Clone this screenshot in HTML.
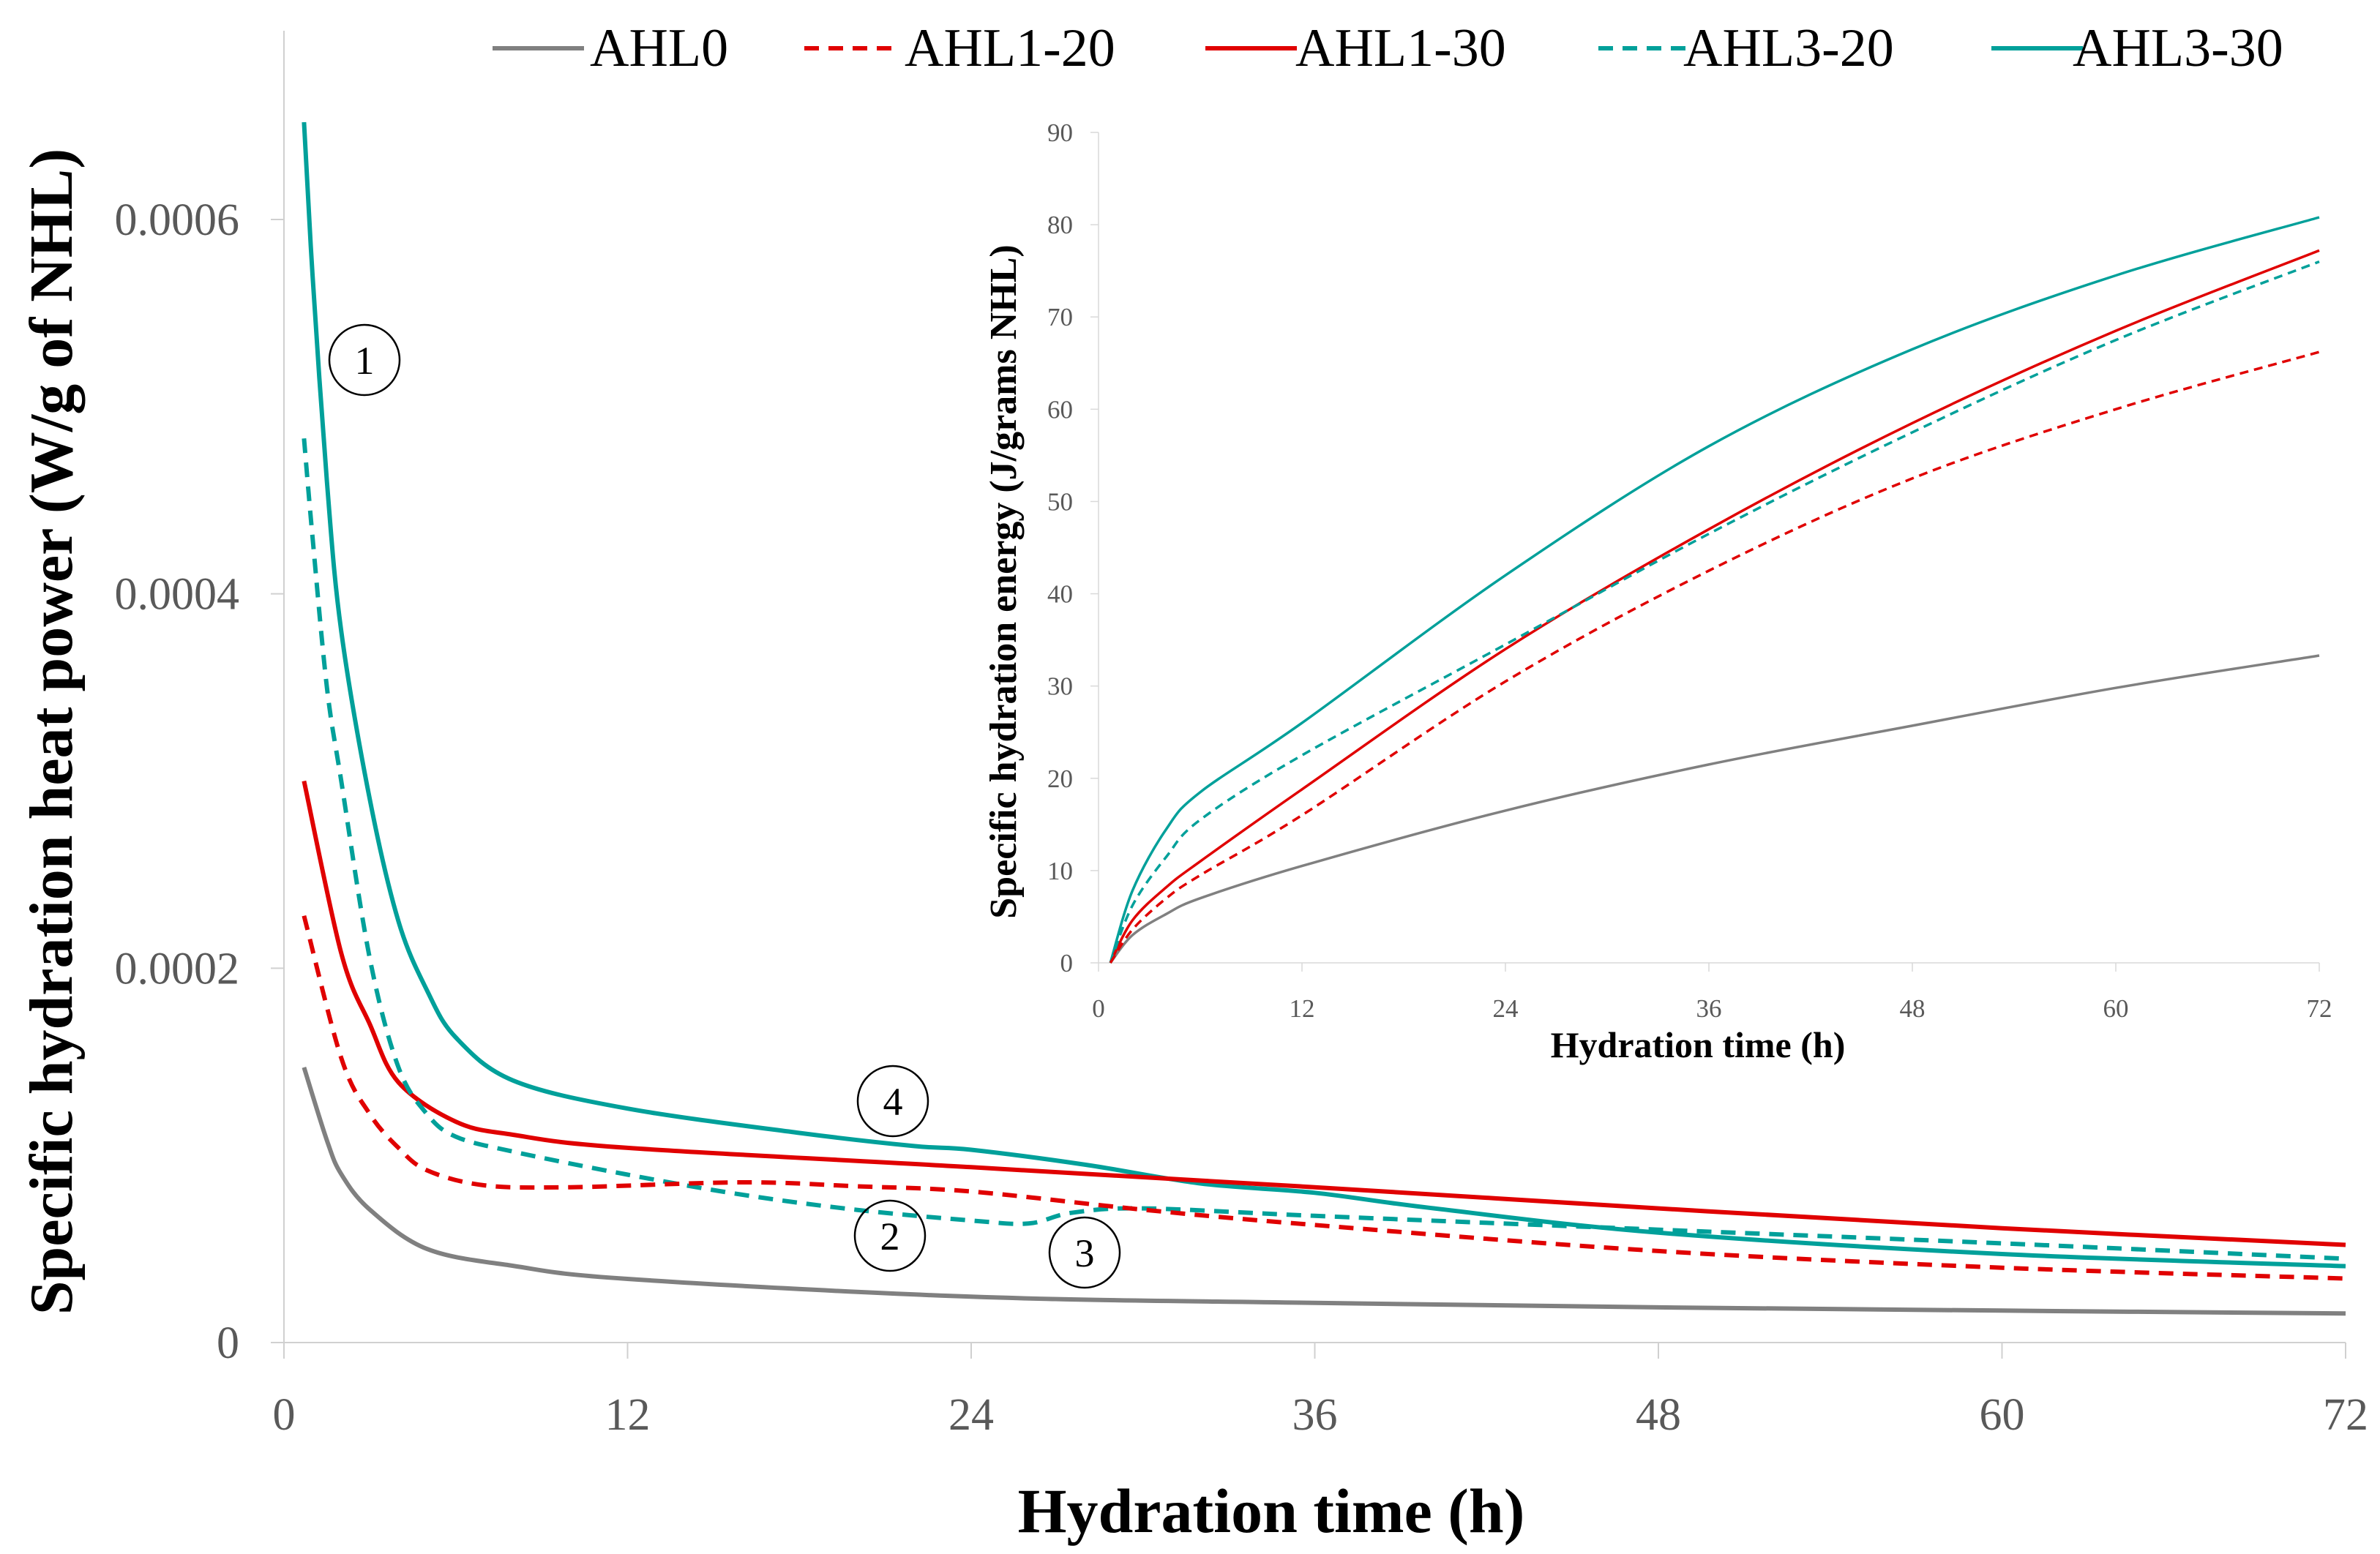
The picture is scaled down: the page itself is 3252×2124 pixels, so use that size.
<!DOCTYPE html>
<html><head><meta charset="utf-8"><style>
html,body{margin:0;padding:0;background:#fff;}
svg{display:block;font-family:"Liberation Serif",serif;}
</style></head><body>
<svg id="chart" width="3252" height="2124" viewBox="0 0 3252 2124" xmlns="http://www.w3.org/2000/svg">
<g id="main"></g>
<g id="inset"></g>
<g id="legend"></g>
</svg>
<script>
// ---- main chart data (power, W/g) ----
const seriesNames = ["AHL0","AHL1-20","AHL1-30","AHL3-20","AHL3-30"];
const seriesColors = ["#808080","#e00000","#e00000","#00a09a","#00a09a"];
const seriesDashed = [false,true,false,true,false];
const xTicks = [0,12,24,36,48,60,72];
const yTicksMain = [0,0.0002,0.0004,0.0006];
const yTickLabelsMain = ["0","0.0002","0.0004","0.0006"];
const tAHL0 = [0.7,1.5,2,3,5,8,12,24,36,48,60,72];
const pAHL0 = [0.000147,0.000108,0.00009,0.000071,0.00005,0.000041,0.000034,0.0000245,0.0000212,0.0000188,0.0000171,0.0000155];
const tAHL1_20 = [0.7,2,3,4,5,7,10,16,20,24,30,36,48,60,72];
const pAHL1_20 = [0.000228,0.000152,0.000122,0.000104,0.000092,0.000084,0.000083,0.0000856,0.0000835,0.0000807,0.000071,0.0000628,0.0000489,0.00004,0.0000342];
const tAHL1_30 = [0.7,2,3,4,6,8,12,24,36,48,60,72];
const pAHL1_30 = [0.0003,0.000208,0.00017,0.000139,0.000118,0.000111,0.000104,0.0000937,0.000083,0.0000717,0.0000611,0.0000522];
const tAHL3_20 = [0.7,1,1.5,2,3,4,5,6,8,12,16,20,24,26,27.5,30,36,48,60,72];
const pAHL3_20 = [0.000483,0.00043,0.00035,0.0003,0.000205,0.000147,0.000122,0.00011,0.000102,0.0000897,0.000079,0.0000709,0.0000652,0.0000636,0.0000693,0.0000717,0.0000677,0.0000603,0.000053,0.0000448];
const tAHL3_30 = [0.7,1,1.5,2,3,4,5,6,8,12,18,22,24,28,32,36,40,48,60,72];
const pAHL3_30 = [0.000652,0.00057,0.00046,0.00038,0.00029,0.000225,0.000188,0.000163,0.00014,0.000125,0.000112,0.000105,0.000103,0.000095,0.000085,0.00008,0.000072,0.0000587,0.0000473,0.0000408];
// ---- inset data (energy, J/g) ----
const yTicksInset = [0,10,20,30,40,50,60,70,80,90];
const eT = [0.7,2,4,6,12,24,36,48,60,72];
const eAHL0 = [0,3,5.3,7,10.5,16.5,21.5,25.7,29.8,33.3];
const eAHL1_20 = [0,3.6,7,9.5,16,30.5,42.5,52.5,60,66.2];
const eAHL1_30 = [0,4.6,8.2,11,18.8,34,47,58.5,68.5,77.2];
const eAHL3_20 = [0,6.2,11.5,15.5,22.5,34.5,46.5,57.5,67.5,76];
const eAHL3_30 = [0,7.8,14.5,18.5,26,42,56,66.5,74.5,80.8];

const NS="http://www.w3.org/2000/svg";
function mk(tag,attrs,parent){const e=document.createElementNS(NS,tag);for(const k in attrs)e.setAttribute(k,attrs[k]);parent.appendChild(e);return e;}
function smooth(pts){let d="M"+pts[0][0].toFixed(1)+","+pts[0][1].toFixed(1);
 for(let i=0;i<pts.length-1;i++){const p0=pts[Math.max(0,i-1)],p1=pts[i],p2=pts[i+1],p3=pts[Math.min(pts.length-1,i+2)];
 const c1=[p1[0]+(p2[0]-p0[0])/6,p1[1]+(p2[1]-p0[1])/6],c2=[p2[0]-(p3[0]-p1[0])/6,p2[1]-(p3[1]-p1[1])/6];
 d+="C"+c1[0].toFixed(1)+","+c1[1].toFixed(1)+" "+c2[0].toFixed(1)+","+c2[1].toFixed(1)+" "+p2[0].toFixed(1)+","+p2[1].toFixed(1);}
 return d;}

// main axes
const mX=t=>388+t/72*(3205-388);
const mY=v=>1835-v/0.0006*(1835-300);
const main=document.getElementById('main');
let e;
e=mk('line',{x1:388,y1:42,x2:388,y2:1835,stroke:'#d0d0d0','stroke-width':2},main);


e=mk('line',{x1:370,y1:1835,x2:3205,y2:1835,stroke:'#d0d0d0','stroke-width':2},main);


xTicks.forEach(t=>{
 e=mk('line',{x1:mX(t),y1:1835,x2:mX(t),y2:1857,stroke:'#d0d0d0','stroke-width':2},main);
 
 
 e=mk('text',{x:mX(t),y:1954,'font-size':62,fill:'#595959','text-anchor':'middle'},main);e.textContent=t;
 
 
});
yTicksMain.forEach((v,i)=>{
 e=mk('line',{x1:370,y1:mY(v),x2:388,y2:mY(v),stroke:'#d0d0d0','stroke-width':2},main);
 
 
 e=mk('text',{x:327,y:mY(v)+21,'font-size':62,fill:'#595959','text-anchor':'end'},main);e.textContent=yTickLabelsMain[i];
 
 
});
e=mk('text',{x:1737,y:2094,'font-size':86,'font-weight':'bold',fill:'#000','text-anchor':'middle'},main);e.textContent='Hydration time (h)';


e=mk('text',{x:0,y:0,'font-size':84,'font-weight':'bold',fill:'#000','text-anchor':'middle',transform:'translate(98,1000) rotate(-90)'},main);e.textContent='Specific hydration heat power (W/g of NHL)';


const mainT=[tAHL0,tAHL1_20,tAHL1_30,tAHL3_20,tAHL3_30];
const mainP=[pAHL0,pAHL1_20,pAHL1_30,pAHL3_20,pAHL3_30];
const drawOrder=[0,4,2,3,1];
drawOrder.forEach(i=>{
 const pts=mainT[i].map((t,j)=>[mX(t),mY(mainP[i][j])]);
 const a={d:smooth(pts),fill:'none',stroke:seriesColors[i],'stroke-width':6,'stroke-linecap':'butt'};
 if(seriesDashed[i])a['stroke-dasharray']='20,13';
 e=mk('path',a,main);
 
 
});
// annotations
[["1",498,492],["4",1220,1505],["2",1216,1689],["3",1482,1712]].forEach(a=>{
 e=mk('circle',{cx:a[1],cy:a[2],r:48,fill:'none',stroke:'#000','stroke-width':2.5},main);
 
 
 e=mk('text',{x:a[1],y:a[2]+19,'font-size':54,fill:'#000','text-anchor':'middle'},main);e.textContent=a[0];
 
 
});

// inset
const inset=document.getElementById('inset');
const iX=t=>1501+t/72*(3169-1501);
const iY=v=>1316-v/90*(1316-181);
e=mk('line',{x1:1501,y1:181,x2:1501,y2:1316,stroke:'#d9d9d9','stroke-width':1.5},inset);


e=mk('line',{x1:1501,y1:1316,x2:3169,y2:1316,stroke:'#d9d9d9','stroke-width':1.5},inset);


xTicks.forEach(t=>{
 e=mk('line',{x1:iX(t),y1:1316,x2:iX(t),y2:1328,stroke:'#d9d9d9','stroke-width':1.5},inset);
 
 
 e=mk('text',{x:iX(t),y:1390,'font-size':35,fill:'#595959','text-anchor':'middle'},inset);e.textContent=t;
 
 
});
yTicksInset.forEach(v=>{
 e=mk('line',{x1:1490,y1:iY(v),x2:1501,y2:iY(v),stroke:'#d9d9d9','stroke-width':1.5},inset);
 
 
 e=mk('text',{x:1466,y:iY(v)+12,'font-size':35,fill:'#595959','text-anchor':'end'},inset);e.textContent=v;
 
 
});
e=mk('text',{x:2320,y:1445,'font-size':50,'font-weight':'bold',fill:'#000','text-anchor':'middle'},inset);e.textContent='Hydration time (h)';


e=mk('text',{x:0,y:0,'font-size':52,'font-weight':'bold',fill:'#000','text-anchor':'middle',transform:'translate(1388,795) rotate(-90)'},inset);e.textContent='Specific hydration energy (J/grams NHL)';


const insetE=[eAHL0,eAHL1_20,eAHL1_30,eAHL3_20,eAHL3_30];
drawOrder.forEach(i=>{
 const pts=eT.map((t,j)=>[iX(t),iY(insetE[i][j])]);
 const a={d:smooth(pts),fill:'none',stroke:seriesColors[i],'stroke-width':3.5};
 if(seriesDashed[i])a['stroke-dasharray']='12,8';
 e=mk('path',a,inset);
 
 
});

// legend
const legend=document.getElementById('legend');
const legX=[673,1099,1647,2184,2721];
const legTextX=[806,1236,1770,2300,2832];
seriesNames.forEach((n,i)=>{
 const a={x1:legX[i],y1:66,x2:legX[i]+125,y2:66,stroke:seriesColors[i],'stroke-width':6};
 if(seriesDashed[i])a['stroke-dasharray']='20,13';
 e=mk('line',a,legend);
 
 
 e=mk('text',{x:legTextX[i],y:90,'font-size':74,fill:'#000'},legend);e.textContent=n;
 
 
});
</script>
</body></html>
